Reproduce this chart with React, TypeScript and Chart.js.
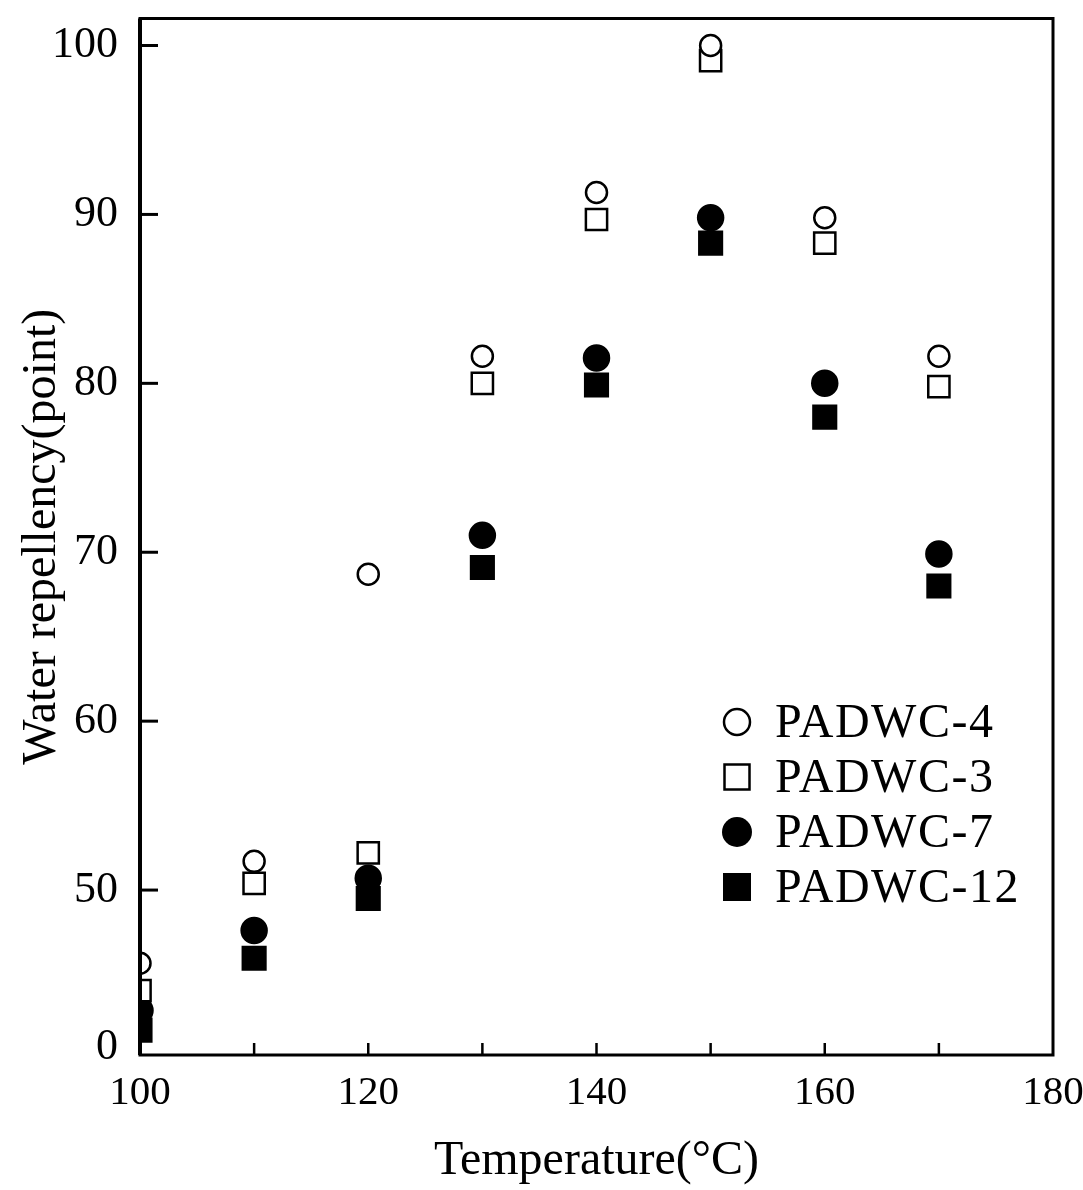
import React, { useEffect, useRef } from 'react';
import { Chart, registerables, LinearScale } from 'chart.js';

Chart.register(...registerables);

// ---- data ----
const temperatures = [100, 110, 120, 130, 140, 150, 160, 170];
const padwc4 = [26.7, 51.7, 68.7, 81.6, 91.3, 100, 89.8, 81.6];
const padwc3 = [18.0, 50.4, 52.2, 80.0, 89.7, 99.1, 88.3, 79.8];
const padwc7 = [11.7, 37.1, 50.7, 71.0, 81.5, 89.8, 80.0, 69.9];
const padwc12 = [5.4, 28.3, 47.3, 69.1, 79.9, 88.3, 78.0, 68.0];
const seriesNames = ['PADWC-4', 'PADWC-3', 'PADWC-7', 'PADWC-12'];
const yTickValues = [0, 50, 60, 70, 80, 90, 100];
const xTickLabelValues = [100, 120, 140, 160, 180];

// ---- broken y axis: the 0-50 range is compressed ----
const BREAK = 50;
const SQUEEZE = 0.186;
const squeeze = (v: number) => (v >= BREAK ? v : BREAK - (BREAK - v) * SQUEEZE);
const unsqueeze = (t: number) => (t >= BREAK ? t : BREAK - (BREAK - t) / SQUEEZE);

class BrokenLinearScale extends LinearScale {
  static id = 'brokenLinear';
  static defaults = LinearScale.defaults;
  getPixelForValue(value: number) {
    return super.getPixelForValue(squeeze(value));
  }
  getValueForPixel(pixel: number) {
    return unsqueeze(super.getValueForPixel(pixel) as number);
  }
}
Chart.register(BrokenLinearScale);

const FONT = "'Liberation Serif', 'DejaVu Serif', serif";

const styles = [
  { pointStyle: 'circle', radius: 10.5, fill: false },
  { pointStyle: 'rect', radius: 15, fill: false },
  { pointStyle: 'circle', radius: 12.5, fill: true },
  { pointStyle: 'rect', radius: 16, fill: true },
];

const framePlugin = {
  id: 'frameAndTicks',
  afterDraw(chart: any) {
    const { ctx, chartArea } = chart;
    const { left, right, top, bottom } = chartArea;
    ctx.save();
    ctx.strokeStyle = '#000';
    ctx.lineWidth = 3;
    ctx.strokeRect(left, top, right - left, bottom - top);
    ctx.lineWidth = 4;
    ctx.beginPath();
    ctx.moveTo(left, top);
    ctx.lineTo(left, bottom);
    ctx.stroke();
    const ys = chart.scales.y;
    ctx.lineWidth = 3;
    ys.ticks.forEach((t: any) => {
      if (t.value === 0) return;
      const py = ys.getPixelForValue(t.value);
      ctx.beginPath();
      ctx.moveTo(left, py);
      ctx.lineTo(left + 18, py);
      ctx.stroke();
    });
    const xs = chart.scales.x;
    ctx.lineWidth = 2.5;
    xs.ticks.forEach((t: any) => {
      if (t.value === xs.min || t.value === xs.max) return;
      const px = xs.getPixelForValue(t.value);
      ctx.beginPath();
      ctx.moveTo(px, bottom);
      ctx.lineTo(px, bottom - 12);
      ctx.stroke();
    });
    ctx.restore();
  },
};

const legendPlugin = {
  id: 'insideLegend',
  afterDraw(chart: any) {
    const { ctx } = chart;
    const x0 = 737;
    const y0 = 722;
    const step = 55;
    const sizes = [
      { r: 13, fill: false, square: false },
      { r: 12.5, fill: false, square: true },
      { r: 15, fill: true, square: false },
      { r: 14, fill: true, square: true },
    ];
    ctx.save();
    ctx.font = `48px ${FONT}`;
    (ctx as any).letterSpacing = '1.5px';
    ctx.textBaseline = 'middle';
    ctx.fillStyle = '#000';
    ctx.strokeStyle = '#000';
    ctx.lineWidth = 2.5;
    chart.data.datasets.forEach((ds: any, i: number) => {
      const y = y0 + i * step;
      const s = sizes[i];
      ctx.beginPath();
      if (s.square) ctx.rect(x0 - s.r, y - s.r, 2 * s.r, 2 * s.r);
      else ctx.arc(x0, y, s.r, 0, Math.PI * 2);
      if (s.fill) ctx.fill();
      else ctx.stroke();
      ctx.fillText(ds.label, 775, y + 2);
    });
    (ctx as any).letterSpacing = '0px';
    ctx.restore();
  },
};

export default function App() {
  const ref = useRef<HTMLCanvasElement | null>(null);
  useEffect(() => {
    if (!ref.current) return;
    const seriesValues = [padwc4, padwc3, padwc7, padwc12];
    const chart = new Chart(ref.current, {
      type: 'scatter',
      data: {
        datasets: seriesNames.map((name, i) => ({
          label: name,
          data: temperatures.map((t, j) => ({ x: t, y: seriesValues[i][j] })),
          pointStyle: styles[i].pointStyle as any,
          pointRadius: styles[i].radius,
          pointBorderWidth: 2.5,
          pointBorderColor: '#000',
          pointBackgroundColor: styles[i].fill ? '#000' : '#fff',
          showLine: false,
        })),
      },
      options: {
        responsive: false,
        animation: false,
        layout: { padding: { top: 15, right: 30, left: 0, bottom: 0 } },
        plugins: {
          legend: { display: false },
          tooltip: { enabled: false },
        },
        scales: {
          x: {
            type: 'linear',
            bounds: 'data',
            min: 100,
            max: 180,
            grid: { display: false, drawTicks: false },
            border: { display: false },
            ticks: {
              stepSize: 10,
              autoSkip: false,
              maxRotation: 0,
              padding: 14,
              color: '#000',
              font: { family: FONT, size: 41 },
              callback: (v: any) => (xTickLabelValues.includes(Number(v)) ? String(v) : ''),
            },
            title: {
              display: true,
              text: 'Temperature(°C)',
              color: '#000',
              font: { family: FONT, size: 48, lineHeight: 1.2 },
              padding: { top: 0, bottom: 0 },
            },
            afterFit: (s: any) => {
              s.height = 135;
              s.paddingLeft = 0;
              s.paddingRight = 0;
            },
          },
          y: {
            type: 'brokenLinear' as any,
            bounds: 'data',
            min: squeeze(-2.5),
            max: 101.6,
            grid: { display: false, drawTicks: false },
            border: { display: false },
            afterBuildTicks: (axis: any) => {
              axis.ticks = yTickValues.map((v) => ({ value: v }));
            },
            ticks: {
              autoSkip: false,
              padding: 22,
              color: '#000',
              font: { family: FONT, size: 44 },
              callback: (v: any) => String(v),
            },
            title: {
              display: true,
              text: 'Water repellency(point)',
              color: '#000',
              font: { family: FONT, size: 48, lineHeight: 1.2 },
              padding: { top: 14, bottom: 0 },
            },
            afterFit: (s: any) => {
              s.width = 140;
              s.paddingTop = 0;
              s.paddingBottom = 0;
            },
          },
        } as any,
      },
      plugins: [framePlugin, legendPlugin],
    });
    return () => chart.destroy();
  }, []);
  return (
    <div style={{ position: 'absolute', left: 0, top: 0, width: 1083, height: 1190, background: '#fff' }}>
      <canvas ref={ref} width={1083} height={1190} style={{ display: 'block' }} />
    </div>
  );
}
